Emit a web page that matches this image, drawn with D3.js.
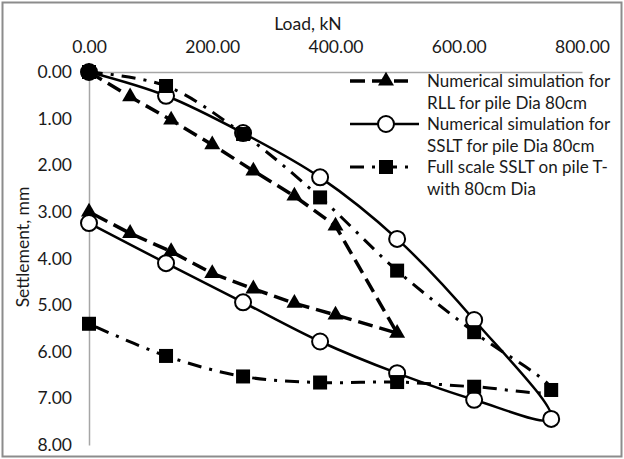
<!DOCTYPE html>
<html>
<head>
<meta charset="utf-8">
<script src="https://cdn.jsdelivr.net/npm/d3@7"></script>
<style>
  html, body { margin: 0; padding: 0; background: #fff; }
  svg { display: block; }
  text { font-family: Lato, "Open Sans", sans-serif; fill: #1a1a1a; }
</style>
</head>
<body>
<svg id="chart" width="624" height="459"></svg>
<script>
// Load (kN) and settlement (mm) for each test, loading branch followed by unloading branch
const rllLoad = [0, 66.7, 133.3, 200, 266.7, 333.3, 400, 500, 400, 333.3, 266.7, 200, 133.3, 66.7, 0];
const rllSettle = [0, 0.53, 1.03, 1.56, 2.12, 2.66, 3.30, 5.60, 5.21, 4.96, 4.65, 4.32, 3.85, 3.46, 3.00];

const ssltLoad = [0, 125, 250, 375, 500, 625, 750, 625, 500, 375, 250, 125, 0];
const ssltSettle = [0, 0.51, 1.31, 2.26, 3.58, 5.32, 7.44, 7.03, 6.46, 5.78, 4.94, 4.10, 3.24];

const fullLoad = [0, 125, 250, 375, 500, 625, 750, 625, 500, 375, 250, 125, 0];
const fullSettle = [0, 0.30, 1.33, 2.69, 4.26, 5.58, 6.82, 6.75, 6.65, 6.66, 6.53, 6.09, 5.40];

const loadTicks = [0, 200, 400, 600, 800];
const settleTicks = [0, 1, 2, 3, 4, 5, 6, 7, 8];

const seriesNames = [
  ["Numerical simulation for", "RLL for pile Dia 80cm"],
  ["Numerical simulation for", "SSLT for pile Dia 80cm"],
  ["Full scale SSLT on pile T-", "with 80cm Dia"]
];

const svg = d3.select("#chart");
const FONT = 17.5;
const LEGEND_FONT = 17;

// chart area frame
svg.append("rect")
  .attr("x", 2.5).attr("y", 2.5).attr("width", 619).attr("height", 454)
  .attr("fill", "#fff").attr("stroke", "#8c8c8c").attr("stroke-width", 2);

const x = d3.scaleLinear().domain([0, 800]).range([89, 582]);
const y = d3.scaleLinear().domain([0, 8]).range([72, 445]);

const fmt = d3.format(".2f");

// load axis along the top
const gx = svg.append("g").attr("transform", `translate(0,${y(0)})`)
  .call(d3.axisTop(x).tickValues(loadTicks).tickFormat(fmt).tickSize(0).tickSizeOuter(0).tickPadding(19));
// settlement axis on the left, growing downward
const gy = svg.append("g").attr("transform", `translate(${x(0)},0)`)
  .call(d3.axisLeft(y).tickValues(settleTicks).tickFormat(fmt).tickSize(0).tickSizeOuter(0).tickPadding(17));

[gx, gy].forEach(g => {
  g.select(".domain").attr("stroke", "#a6a6a6").attr("stroke-width", 1.5);
  g.selectAll("text").attr("font-size", FONT).attr("font-family", "Lato, 'Open Sans', sans-serif").attr("fill", "#1a1a1a");
});

// axis titles
svg.append("text").attr("x", 308).attr("y", 30).attr("text-anchor", "middle")
  .attr("font-size", FONT).text("Load, kN");
svg.append("text").attr("transform", "translate(29,247) rotate(-90)").attr("text-anchor", "middle")
  .attr("font-size", FONT).text("Settlement, mm");

// series styles
const styles = [
  { dash: "15,7", width: 3.5, curve: d3.curveLinear, marker: "triangle" },
  { dash: null, width: 2.5, curve: d3.curveCatmullRom.alpha(0.5), marker: "circle" },
  { dash: "14,8,3,8", width: 3, curve: d3.curveCatmullRom.alpha(0.5), marker: "square" }
];

const seriesData = [
  rllLoad.map((l, i) => [l, rllSettle[i]]),
  ssltLoad.map((l, i) => [l, ssltSettle[i]]),
  fullLoad.map((l, i) => [l, fullSettle[i]])
];

function drawMarker(g, type, cx, cy) {
  if (type === "triangle") {
    const s = d3.symbol().type(d3.symbolTriangle).size(110)();
    g.append("path").attr("d", s).attr("transform", `translate(${cx},${cy})`).attr("fill", "#000");
  } else if (type === "circle") {
    g.append("circle").attr("cx", cx).attr("cy", cy).attr("r", 8)
      .attr("fill", "#fff").attr("stroke", "#000").attr("stroke-width", 2);
  } else {
    g.append("rect").attr("x", cx - 7).attr("y", cy - 7).attr("width", 14).attr("height", 14).attr("fill", "#000");
  }
}

seriesData.forEach((data, i) => {
  const st = styles[i];
  const g = svg.append("g");
  const line = d3.line().x(d => x(d[0])).y(d => y(d[1])).curve(st.curve);
  g.append("path").attr("d", line(data)).attr("fill", "none").attr("stroke", "#000")
    .attr("stroke-width", st.width).attr("stroke-dasharray", st.dash);
  data.forEach(d => drawMarker(g, st.marker, x(d[0]), y(d[1])));
});

// legend: key line with marker, then two wrapped lines of text
const legendRows = [81, 124, 167];
const lineGap = 22;
seriesNames.forEach((lines, i) => {
  const st = styles[i];
  const ly = legendRows[i];
  const g = svg.append("g");
  g.append("line").attr("x1", 350).attr("x2", st.dash ? 408 : 419).attr("y1", ly).attr("y2", ly)
    .attr("stroke", "#000").attr("stroke-width", st.width).attr("stroke-dasharray", st.dash);
  drawMarker(g, st.marker, 386, ly);
  lines.forEach((t, k) => {
    g.append("text").attr("x", 427).attr("y", ly + k * lineGap).attr("dy", "0.35em")
      .attr("font-size", LEGEND_FONT).text(t);
  });
});
</script>
</body>
</html>
